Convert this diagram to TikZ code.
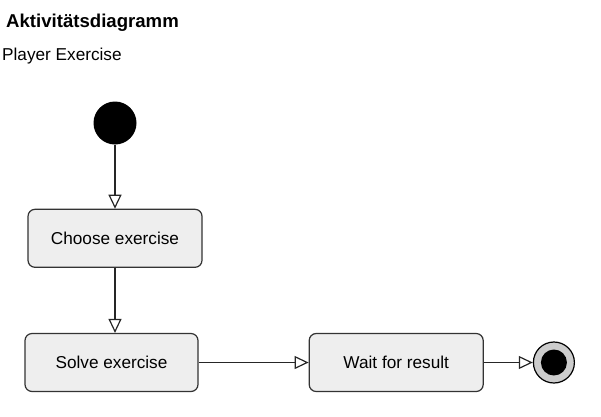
\documentclass[tikz,border=0pt]{standalone}
\usepackage{fontspec}
\setmainfont{Liberation Sans}
\usepackage{xcolor}
\usetikzlibrary{arrows.meta,positioning}
\definecolor{boxfill}{HTML}{EEEEEE}
\definecolor{boxline}{HTML}{333333}
\definecolor{endring}{HTML}{CCCCCC}

\begin{document}
\begin{tikzpicture}[
  action/.style={draw=boxline,line width=1.2pt,rounded corners=7pt,fill=boxfill,
                 minimum width=174pt,minimum height=58pt,inner sep=0pt,
                 font=\fontsize{17.2pt}{20pt}\selectfont},
  startdot/.style={circle,fill=black,minimum size=43pt,inner sep=0pt},
  flow/.style={-{Triangle[open,length=14pt,width=13pt]},line width=1.2pt,draw=black!85}]
  \useasboundingbox (0pt,0pt) rectangle (601pt,-416pt);
  \node[anchor=base west,inner sep=0pt,font=\fontsize{18.6pt}{22pt}\selectfont\bfseries]
    (title) at (6pt,-27.5pt) {Aktivitätsdiagramm};
  \node[anchor=base west,inner sep=0pt,font=\fontsize{17.2pt}{20pt}\selectfont]
    (subtitle) at (2pt,-60pt) {Player Exercise};
  \node[startdot] (start) at (115pt,-123pt) {};
  \node[action,below=64pt of start] (choose) {Choose exercise};
  \node[action,below=65pt of choose,xshift=-3.5pt,minimum width=173pt] (solve) {Solve exercise};
  \node[action,right=110pt of solve] (wait) {Wait for result};
  \node[circle,draw=black,line width=1.2pt,fill=endring,minimum size=41pt,inner sep=0pt,
        right=49pt of wait] (finish) {};
  \node[circle,fill=black,minimum size=26pt,inner sep=0pt] (finishdot) at (finish) {};
  \draw[flow] (start) -- (choose);
  \draw[flow] (choose) -- (solve.north -| choose);
  \draw[flow] (solve) -- (wait);
  \draw[flow] (wait) -- (finish);
\end{tikzpicture}
\end{document}
